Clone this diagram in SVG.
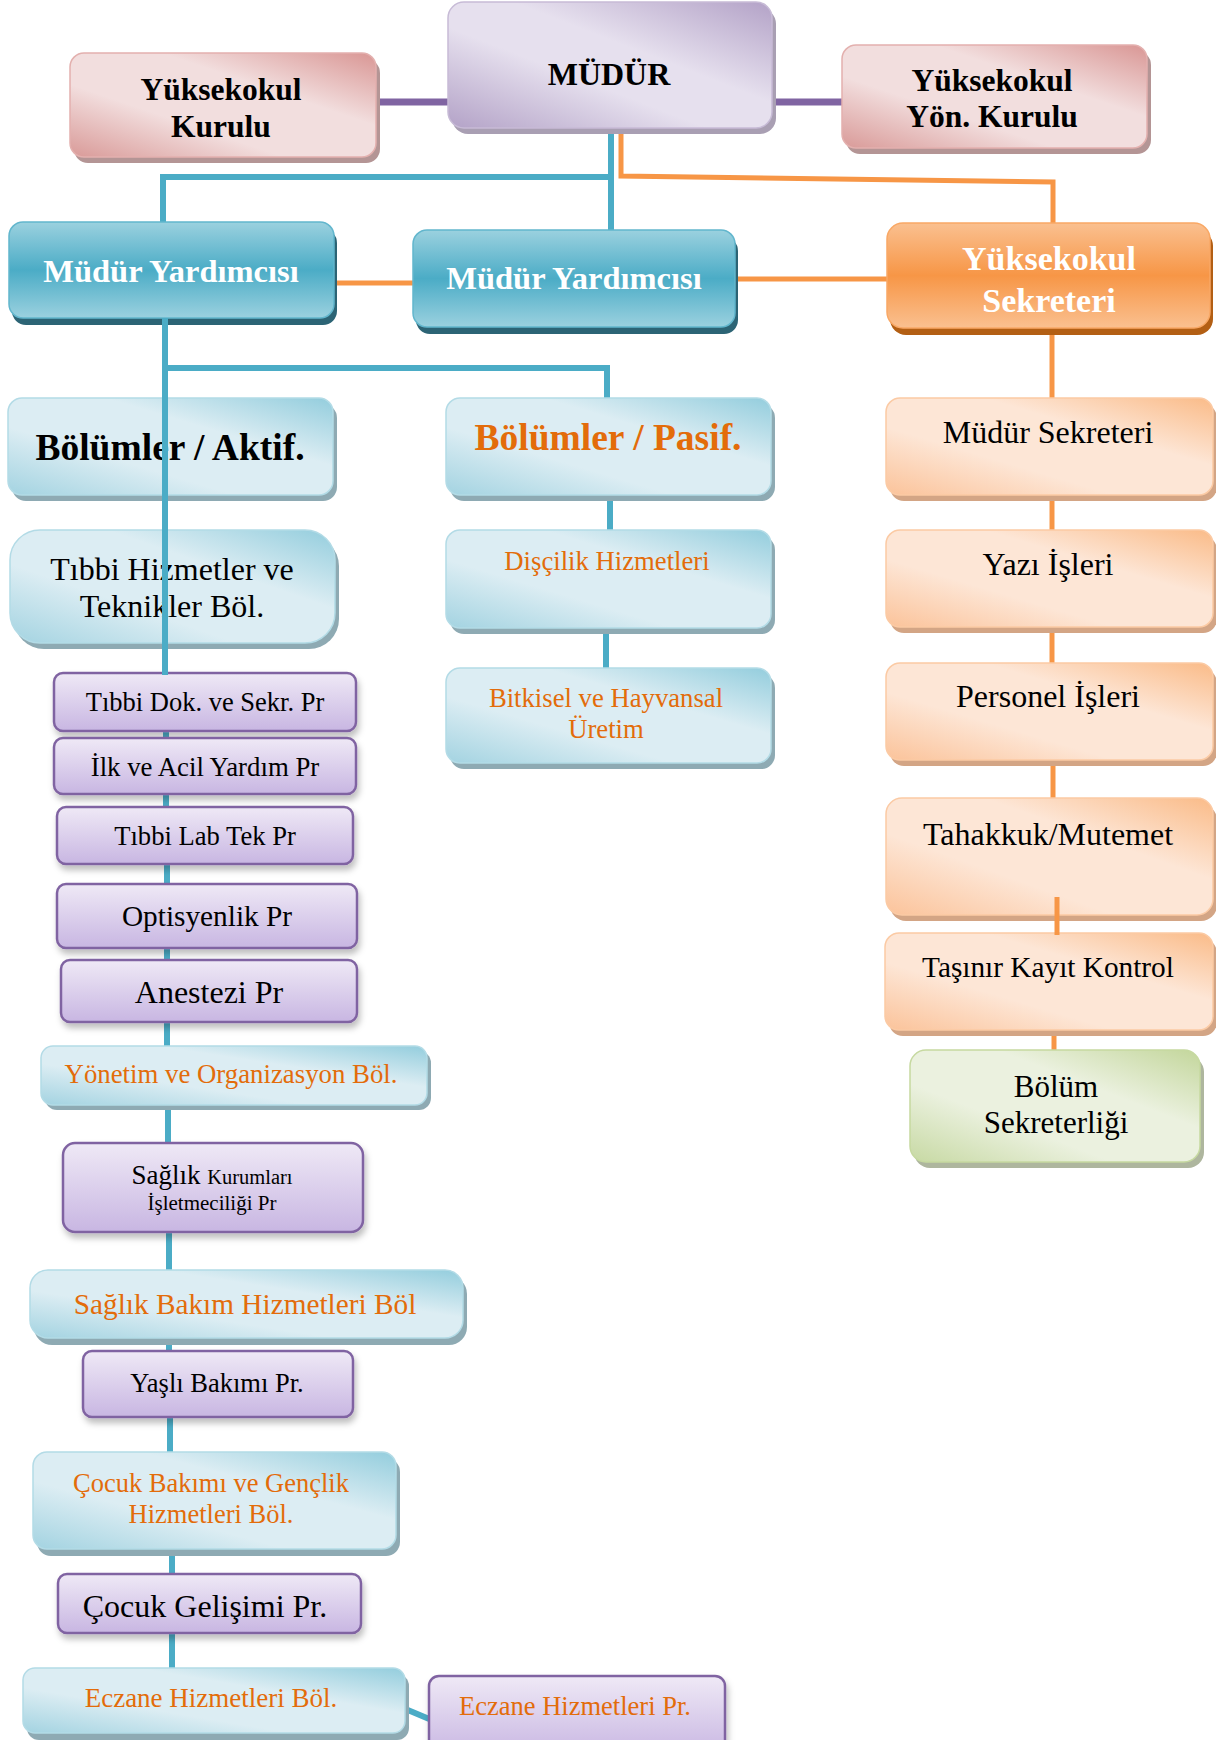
<svg xmlns="http://www.w3.org/2000/svg" width="1216" height="1740" viewBox="0 0 1216 1740">
<defs>
<linearGradient id="gB" x1="0" y1="1" x2="1" y2="0"><stop offset="0" stop-color="#a3d3e1"/><stop offset="0.35" stop-color="#dcedf3"/><stop offset="0.65" stop-color="#dcedf3"/><stop offset="1" stop-color="#93cddd"/></linearGradient>
<linearGradient id="gO" x1="0" y1="1" x2="1" y2="0"><stop offset="0" stop-color="#fbc39a"/><stop offset="0.35" stop-color="#fde6d6"/><stop offset="0.65" stop-color="#fde6d6"/><stop offset="1" stop-color="#fabb88"/></linearGradient>
<linearGradient id="gP" x1="0" y1="1" x2="1" y2="0"><stop offset="0" stop-color="#d99a98"/><stop offset="0.35" stop-color="#f2dede"/><stop offset="0.65" stop-color="#f2dede"/><stop offset="1" stop-color="#d99694"/></linearGradient>
<linearGradient id="gL" x1="0" y1="1" x2="1" y2="0"><stop offset="0" stop-color="#b3a2c7"/><stop offset="0.4" stop-color="#e6e0ee"/><stop offset="0.6" stop-color="#e6e0ee"/><stop offset="1" stop-color="#b3a2c7"/></linearGradient>
<linearGradient id="gG" x1="0" y1="1" x2="1" y2="0"><stop offset="0" stop-color="#c7d9a3"/><stop offset="0.35" stop-color="#ebf1df"/><stop offset="0.65" stop-color="#ebf1df"/><stop offset="1" stop-color="#c3d69b"/></linearGradient>
<linearGradient id="gM" x1="0" y1="0" x2="0" y2="1"><stop offset="0" stop-color="#9bd1df"/><stop offset="0.5" stop-color="#4bacc6"/><stop offset="1" stop-color="#9bd1df"/></linearGradient>
<linearGradient id="gS" x1="0" y1="0" x2="0" y2="1"><stop offset="0" stop-color="#fac090"/><stop offset="0.5" stop-color="#f79646"/><stop offset="1" stop-color="#fac090"/></linearGradient>
<linearGradient id="gU" x1="0" y1="0" x2="0" y2="1"><stop offset="0" stop-color="#efe9f6"/><stop offset="1" stop-color="#c8b6e2"/></linearGradient>
<filter id="fs" x="-10%" y="-20%" width="120%" height="150%"><feDropShadow dx="2" dy="5" stdDeviation="3" flood-color="#000" flood-opacity="0.25"/></filter>
</defs>
<style>
text{font-family:"Liberation Serif","Times New Roman",serif;text-anchor:middle}
.b{font-weight:bold}
.w{fill:#fff}
.k{fill:#000}
.or{fill:#e36c0a}
.shB{fill:#8eaab3}.shO{fill:#d3a585}.shP{fill:#b49595}.shL{fill:#a99fb3}.shG{fill:#aeb69e}.shM{fill:#2c6475}.shS{fill:#b35f14}
.nB{fill:url(#gB);stroke:#b3dbe6;stroke-width:1.5}
.nO{fill:url(#gO);stroke:#fbcaa4;stroke-width:1.5}
.nP{fill:url(#gP);stroke:#e3b0ae;stroke-width:1.5}
.nL{fill:url(#gL);stroke:#c7bbd6;stroke-width:1.5}
.nG{fill:url(#gG);stroke:#c6d9a0;stroke-width:1.5}
.nM{fill:url(#gM);stroke:#62b6cd;stroke-width:1.5}
.nS{fill:url(#gS);stroke:#f9a865;stroke-width:1.5}
.nU{fill:url(#gU);stroke:#8064a2;stroke-width:2.5;filter:url(#fs)}
.cB{stroke:#4bacc6;stroke-width:6;fill:none}
.cO{stroke:#f79646;stroke-width:5;fill:none}
.cU{stroke:#8064a2;stroke-width:7;fill:none}
</style>

<g id="connectors-back">
<line class="cU" x1="374" y1="102" x2="450" y2="102"/>
<line class="cU" x1="770" y1="102" x2="844" y2="102"/>
<polyline class="cB" points="611,126 611,232"/>
<polyline class="cB" points="611,177 163,177 163,224"/>
<polyline class="cO" points="621,126 621,176 1053,182 1053,225"/>
<line class="cO" x1="337" y1="283" x2="413" y2="283"/>
<line class="cO" x1="735" y1="279" x2="887" y2="279"/>
<polyline class="cB" points="165,368 607,368 607,400"/>
<line class="cB" x1="610" y1="495" x2="610" y2="532"/>
<line class="cB" x1="606" y1="628" x2="606" y2="670"/>
<line class="cO" x1="1052" y1="328" x2="1052" y2="400"/>
<line class="cO" x1="1052" y1="495" x2="1052" y2="532"/>
<line class="cO" x1="1052" y1="627" x2="1052" y2="665"/>
<line class="cO" x1="1053" y1="760" x2="1053" y2="800"/>
<line class="cO" x1="1054" y1="1030" x2="1054" y2="1054"/>
<line class="cB" x1="166" y1="729" x2="166" y2="740"/>
<line class="cB" x1="166" y1="794" x2="166" y2="809"/>
<line class="cB" x1="167" y1="862" x2="167" y2="886"/>
<line class="cB" x1="167" y1="946" x2="167" y2="962"/>
<line class="cB" x1="167" y1="1020" x2="167" y2="1048"/>
<line class="cB" x1="168" y1="1105" x2="168" y2="1145"/>
<line class="cB" x1="169" y1="1230" x2="169" y2="1272"/>
<line class="cB" x1="169" y1="1338" x2="169" y2="1353"/>
<line class="cB" x1="170" y1="1415" x2="170" y2="1454"/>
<line class="cB" x1="172" y1="1549" x2="172" y2="1576"/>
<line class="cB" x1="172" y1="1631" x2="172" y2="1670"/>
<line class="cB" x1="403" y1="1708" x2="434" y2="1721"/>
</g>

<g id="kurulu"><rect class="shP" x="74" y="59" width="306" height="104" rx="14"/><rect class="nP" x="70" y="53" width="306" height="104" rx="14"/><text class="b k" x="221" y="100" font-size="31.5">Yüksekokul</text><text class="b k" x="221" y="137" font-size="31.5">Kurulu</text></g>
<g id="mudur"><rect class="shL" x="452" y="8" width="324" height="126" rx="16"/><rect class="nL" x="448" y="2" width="324" height="126" rx="16"/><text class="b k" x="609" y="85" font-size="32">MÜDÜR</text></g>
<g id="yon-kurulu"><rect class="shP" x="846" y="51" width="305" height="103" rx="14"/><rect class="nP" x="842" y="45" width="305" height="103" rx="14"/><text class="b k" x="992" y="91" font-size="31.5">Yüksekokul</text><text class="b k" x="992" y="127" font-size="31.5">Yön. Kurulu</text></g>
<g id="my1"><rect class="shM" x="12" y="229" width="325" height="96" rx="14"/><rect class="nM" x="9" y="222" width="325" height="96" rx="14"/><text class="b w" x="171" y="282" font-size="32.5">Müdür Yardımcısı</text></g>
<g id="my2"><rect class="shM" x="416" y="237" width="322" height="97" rx="14"/><rect class="nM" x="413" y="230" width="322" height="97" rx="14"/><text class="b w" x="574" y="289" font-size="32.5">Müdür Yardımcısı</text></g>
<g id="sekreter"><rect class="shS" x="890" y="230" width="323" height="105" rx="16"/><rect class="nS" x="887" y="223" width="323" height="105" rx="16"/><text class="b w" x="1049" y="270" font-size="34">Yüksekokul</text><text class="b w" x="1049" y="312" font-size="34">Sekreteri</text></g>

<g id="aktif"><rect class="shB" x="12" y="404" width="325" height="97" rx="14"/><rect class="nB" x="8" y="398" width="325" height="97" rx="14"/><text class="b k" x="170" y="460" font-size="37.5">Bölümler / Aktif.</text></g>
<g id="pasif"><rect class="shB" x="450" y="404" width="325" height="97" rx="14"/><rect class="nB" x="446" y="398" width="325" height="97" rx="14"/><text class="b or" x="608" y="450" font-size="37.5">Bölümler / Pasif.</text></g>
<g id="mudur-sekreteri"><rect class="shO" x="890" y="404" width="327" height="97" rx="14"/><rect class="nO" x="886" y="398" width="327" height="97" rx="14"/><text class="k" x="1048" y="443" font-size="32">Müdür Sekreteri</text></g>
<g id="tibbi-hizmetler"><rect class="shB" x="14" y="536" width="325" height="113" rx="30"/><rect class="nB" x="10" y="530" width="325" height="113" rx="30"/><text class="k" x="172" y="580" font-size="32">Tıbbi Hizmetler ve</text><text class="k" x="172" y="617" font-size="32">Teknikler Böl.</text></g>
<g id="discilik"><rect class="shB" x="450" y="536" width="325" height="98" rx="14"/><rect class="nB" x="446" y="530" width="325" height="98" rx="14"/><text class="or" x="607" y="570" font-size="26.7">Dişçilik Hizmetleri</text></g>
<g id="yazi"><rect class="shO" x="890" y="536" width="327" height="97" rx="14"/><rect class="nO" x="886" y="530" width="327" height="97" rx="14"/><text class="k" x="1048" y="575" font-size="32">Yazı İşleri</text></g>
<g id="bitkisel"><rect class="shB" x="450" y="674" width="325" height="95" rx="14"/><rect class="nB" x="446" y="668" width="325" height="95" rx="14"/><text class="or" x="606" y="707" font-size="26.7">Bitkisel ve Hayvansal</text><text class="or" x="606" y="738" font-size="26.7">Üretim</text></g>
<g id="personel"><rect class="shO" x="890" y="669" width="327" height="97" rx="14"/><rect class="nO" x="886" y="663" width="327" height="97" rx="14"/><text class="k" x="1048" y="707" font-size="32">Personel İşleri</text></g>
<g id="tahakkuk"><rect class="shO" x="890" y="804" width="327" height="117" rx="16"/><rect class="nO" x="886" y="798" width="327" height="117" rx="16"/><text class="k" x="1048" y="845" font-size="32">Tahakkuk/Mutemet</text></g>
<g id="tasinir"><rect class="shO" x="889" y="939" width="328" height="97" rx="14"/><rect class="nO" x="885" y="933" width="328" height="97" rx="14"/><text class="k" x="1048" y="977" font-size="29.3">Taşınır Kayıt Kontrol</text></g>
<g id="bolum-sekreterligi"><rect class="shG" x="914" y="1056" width="290" height="112" rx="16"/><rect class="nG" x="910" y="1050" width="290" height="112" rx="16"/><text class="k" x="1056" y="1097" font-size="31">Bölüm</text><text class="k" x="1056" y="1133" font-size="31">Sekreterliği</text></g>

<g id="tibbi-dok"><rect class="nU" x="54" y="673" width="302" height="58" rx="9"/><text class="k" x="205" y="711" font-size="26.5">Tıbbi Dok. ve Sekr. Pr</text></g>
<g id="ilk"><rect class="nU" x="54" y="738" width="302" height="56" rx="9"/><text class="k" x="205" y="776" font-size="26.8">İlk ve Acil Yardım Pr</text></g>
<g id="lab"><rect class="nU" x="57" y="807" width="296" height="57" rx="9"/><text class="k" x="205" y="845" font-size="26.6">Tıbbi Lab Tek Pr</text></g>
<g id="optisyenlik"><rect class="nU" x="57" y="884" width="300" height="64" rx="9"/><text class="k" x="207" y="926" font-size="29.3">Optisyenlik Pr</text></g>
<g id="anestezi"><rect class="nU" x="61" y="960" width="296" height="62" rx="9"/><text class="k" x="209" y="1003" font-size="32">Anestezi Pr</text></g>
<g id="yonetim"><rect class="shB" x="45" y="1051" width="386" height="59" rx="12"/><rect class="nB" x="41" y="1046" width="386" height="59" rx="12"/><text class="or" x="231" y="1083" font-size="26.8">Yönetim ve Organizasyon Böl.</text></g>
<g id="saglik-kurumlari"><rect class="nU" x="63" y="1143" width="300" height="89" rx="12"/><text class="k" x="212" y="1184"><tspan font-size="27">Sağlık </tspan><tspan font-size="20.5">Kurumları</tspan></text><text class="k" x="212" y="1210" font-size="21">İşletmeciliği Pr</text></g>
<g id="sbh"><rect class="shB" x="34" y="1276" width="433" height="69" rx="18"/><rect class="nB" x="30" y="1270" width="433" height="68" rx="18"/><text class="or" x="245" y="1314" font-size="29.3">Sağlık Bakım Hizmetleri Böl</text></g>
<g id="yasli"><rect class="nU" x="83" y="1351" width="270" height="66" rx="9"/><text class="k" x="217" y="1392" font-size="26.5">Yaşlı Bakımı Pr.</text></g>
<g id="cocuk-bakimi"><rect class="shB" x="37" y="1458" width="363" height="98" rx="14"/><rect class="nB" x="33" y="1452" width="363" height="97" rx="14"/><text class="or" x="211" y="1492" font-size="26.5">Çocuk Bakımı ve Gençlik</text><text class="or" x="211" y="1523" font-size="26.5">Hizmetleri Böl.</text></g>
<g id="cocuk-gelisimi"><rect class="nU" x="58" y="1574" width="303" height="59" rx="9"/><text class="k" x="205" y="1617" font-size="32">Çocuk Gelişimi Pr.</text></g>
<g id="eczane-bol"><rect class="shB" x="27" y="1674" width="382" height="66" rx="12"/><rect class="nB" x="23" y="1668" width="382" height="65" rx="12"/><text class="or" x="211" y="1707" font-size="27">Eczane Hizmetleri Böl.</text></g>
<g id="eczane-pr"><rect class="nU" x="429" y="1676" width="296" height="80" rx="10"/><text class="or" x="575" y="1715" font-size="26.5">Eczane Hizmetleri Pr.</text></g>

<g id="connectors-front">
<line class="cB" x1="165" y1="318" x2="165" y2="675"/>
<line class="cO" x1="1057" y1="897" x2="1057" y2="935"/>
</g>
</svg>
